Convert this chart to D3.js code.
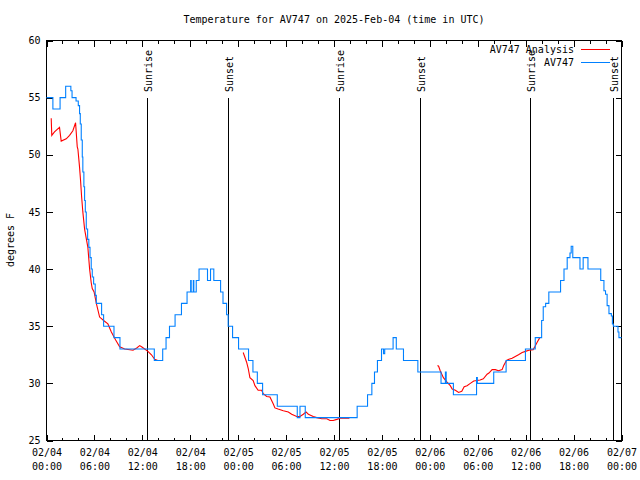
<!DOCTYPE html>
<html><head><meta charset="utf-8">
<script src="https://cdn.jsdelivr.net/npm/d3@7/dist/d3.min.js"></script>
<style>
html,body{margin:0;padding:0;background:#fff;}
svg text{font-family:"DejaVu Sans Mono","Liberation Mono",monospace;font-size:10px;fill:#000;}
</style></head><body>
<svg id="chart" width="640" height="480"></svg>
<script>
// ---- data (hours since 2025-02-04 00:00 UTC) ----
const titleText = "Temperature for AV747 on 2025-Feb-04 (time in UTC)";
const yLabelText = "degrees F";
const seriesNames = ["AV747 Analysis", "AV747"];
const seriesColors = ["#ff0000", "#0080ff"];

const obsHours = [0,0.8,1.7,2.4,3.05,3.2,3.7,3.98,4.14,4.23,4.35,4.48,4.55,4.68,4.77,4.86,4.98,5.15,5.3,5.45,5.6,5.73,5.9,6.1,6.24,6.9,7.15,8.45,9.2,13.5,14.55,14.97,15.4,16.1,16.9,17.6,18.05,18.12,18.38,18.45,18.75,19.1,20.16,20.54,20.95,21.8,22.1,22.55,22.75,23.3,24.05,25.3,25.85,26.4,27.06,28.9,31.4,31.74,32.4,38.9,40.2,40.74,41.07,41.44,41.95,42.2,42.35,43.4,43.8,44.7,46.5,49.4,49.95,50.05,50.95,53.85,53.95,56.0,57.55,59.97,61.2,62.0,62.2,62.5,62.9,64.37,64.8,65.2,65.55,65.7,65.9,66.8,67.2,67.8,69.4,69.8,70.0,70.2,70.43,70.73,70.86,70.98,71.56,71.68,72];
const obsTemps = [55,54,55,56,55.6,55,54.7,54.3,53.6,52.7,51.3,49.8,48.5,47.2,46,45,43.5,42.6,41.9,41,40,39.3,38.7,37.7,37,36,35,34,33,32,33,34,35,36,37,38,39,38,39,38,39,40,39,40,39,38,37,36,35,34,33,32,31,30,29,28,27,28,27,28,29,30,31,32,33,32.6,33,34,33,32,31,30,31,30,29,30.5,30,31,32,33,34,35.5,36.7,37,38,39,40,41,41.4,42,41,40,41,40,39,38.1,37.8,36.8,36.1,35.9,35.2,35,34.5,34,34];

// null temperature = gap in the analysis series
const anaHours = [0.59,0.66,1.0,1.63,1.84,2.47,2.89,3.3,3.64,3.85,3.93,4.05,4.14,4.27,4.39,4.55,4.77,5.0,5.18,5.4,5.6,5.73,5.96,6.24,6.65,7.15,7.69,8.12,8.66,9.16,9.79,10.83,11.3,11.67,11.9,12.3,12.7,13.14,13.55,13.93,
  19,
  24.63,25.06,25.26,25.47,25.88,26.1,26.5,26.94,27.14,27.57,27.98,28.4,28.6,29.0,29.65,30.28,30.7,31.33,31.74,32.16,32.5,32.79,33.4,33.84,34.47,35.1,35.5,35.9,36.35,36.76,37.93,
  43,
  48.96,49.1,49.3,49.5,49.7,50.15,50.56,50.8,51.2,51.6,52.0,52.3,52.66,53.07,53.5,53.9,54.3,54.7,55.17,55.4,55.8,56.2,56.6,57.05,57.25,57.6,57.9,58.3,58.7,59.1,59.56,59.97,60.4,60.94,61.14,61.44,61.77];
const anaTemps = [53.2,51.7,52.0,52.4,51.2,51.4,51.7,52.1,52.8,50.7,50.5,49.6,48.9,47.7,46.4,45,43.5,42.6,41.9,40,38.8,38.3,38.0,37,35.8,35.5,35.2,34.5,33.8,33.2,33.0,32.9,33.1,33.3,33.2,33.0,32.8,32.5,32.1,32.0,
  null,
  32.7,31.85,31.3,30.5,30.25,29.8,29.4,29.4,29.1,28.85,28.8,28.2,27.85,27.75,27.6,27.5,27.3,27.1,27.1,27.3,27.5,27.3,27.1,27.0,26.9,26.9,26.75,26.75,26.85,26.95,26.95,
  null,
  31.56,31.5,31.1,30.8,30.5,30.1,29.8,29.5,29.4,29.2,29.3,29.7,29.8,30.0,30.2,30.25,30.3,30.4,30.8,30.9,31.2,31.2,31.1,31.2,31.56,32.0,32.1,32.2,32.35,32.5,32.7,32.8,32.9,32.95,33.2,33.6,34.0];

const sunLabels = ["Sunrise","Sunset","Sunrise","Sunset","Sunrise","Sunset"];
const sunHours = [12.58,22.78,36.6,46.8,60.6,70.95];

const yTicks = [25,30,35,40,45,50,55,60];
const majorStepHours = 6, minorStepHours = 2;

// ---- drawing ----
const svg = d3.select("#chart");
const t0 = Date.UTC(2025,1,4,0,0), t1 = Date.UTC(2025,1,7,0,0);
const hd = h => new Date(t0 + h*3600e3);
const L = 46.5, R = 621.5, T = 40.5, B = 440.5;
const x = d3.scaleUtc().domain([t0, t1]).range([L, R]);
const y = d3.scaleLinear().domain([25, 60]).range([B, T]);

svg.append("rect").attr("width",640).attr("height",480).attr("fill","#fff");

// title
svg.append("text").attr("x",(L+R)/2).attr("y",23).attr("text-anchor","middle").text(titleText);
// y label
svg.append("text").attr("transform","translate(14,240) rotate(-90)").attr("text-anchor","middle").text(yLabelText);

// axes
const majorDates = d3.utcHour.every(majorStepHours).range(new Date(t0), new Date(t1+1));
const minorDates = d3.utcHour.every(minorStepHours).range(new Date(t0), new Date(t1+1))
  .filter(d => d.getUTCHours() % majorStepHours !== 0);

const axL = svg.append("g").attr("transform",`translate(${L},0)`)
  .call(d3.axisLeft(y).tickValues(yTicks).tickSize(-6).tickPadding(6).tickFormat(d3.format("d")));
const axR = svg.append("g").attr("transform",`translate(${R},0)`)
  .call(d3.axisRight(y).tickValues(yTicks).tickSize(-6).tickFormat(""));
const axB = svg.append("g").attr("transform",`translate(0,${B})`)
  .call(d3.axisBottom(x).tickValues(majorDates).tickSize(-6).tickPadding(8).tickFormat(""));
const axBm = svg.append("g").attr("transform",`translate(0,${B})`)
  .call(d3.axisBottom(x).tickValues(minorDates).tickSize(-3).tickFormat(""));
const axT = svg.append("g").attr("transform",`translate(0,${T})`)
  .call(d3.axisTop(x).tickValues(majorDates).tickSize(-6).tickFormat(""));
const axTm = svg.append("g").attr("transform",`translate(0,${T})`)
  .call(d3.axisTop(x).tickValues(minorDates).tickSize(-3).tickFormat(""));
[axL,axR,axB,axBm,axT,axTm].forEach(g => {
  g.select(".domain").remove();
  g.selectAll("line").attr("stroke","#000").attr("shape-rendering","crispEdges");
  g.selectAll("text").attr("font-family",null).attr("font-size",null).attr("fill","#000");
  g.attr("font-family",null).attr("font-size",null);
});
// two-line x labels
const fmtD = d3.utcFormat("%m/%d"), fmtH = d3.utcFormat("%H:%M");
axB.selectAll(".tick").each(function(d){
  const t = d3.select(this).select("text").attr("dy",null).attr("y",15);
  t.text(null);
  t.append("tspan").attr("x",0).attr("y",15).text(fmtD(d));
  t.append("tspan").attr("x",0).attr("y",29).text(fmtH(d));
});

// border
svg.append("rect").attr("x",L).attr("y",T).attr("width",R-L).attr("height",B-T)
  .attr("fill","none").attr("stroke","#000").attr("shape-rendering","crispEdges");

// sunrise / sunset
const sun = svg.append("g");
sunHours.forEach((h,i) => {
  const sx = Math.round(x(hd(h))) + 0.5;
  sun.append("line").attr("x1",sx).attr("x2",sx).attr("y1",98).attr("y2",B)
    .attr("stroke","#000").attr("shape-rendering","crispEdges");
  sun.append("text").attr("transform",`translate(${sx+4},92) rotate(-90)`)
    .attr("text-anchor","start").text(sunLabels[i]);
});

// analysis (red)
const anaData = anaHours.map((h,i) => ({d: hd(h), v: anaTemps[i]}));
svg.append("path").datum(anaData)
  .attr("d", d3.line().defined(p => p.v !== null).x(p => x(p.d)).y(p => y(p.v)))
  .attr("fill","none").attr("stroke",seriesColors[0]).attr("stroke-width",1.1);

// observations (blue)
const obsData = obsHours.map((h,i) => ({d: hd(h), v: obsTemps[i]}));
svg.append("path").datum(obsData)
  .attr("d", d3.line().curve(d3.curveStepAfter).x(p => x(p.d)).y(p => y(p.v)))
  .attr("fill","none").attr("stroke",seriesColors[1]).attr("stroke-width",1.1);

// legend
const leg = svg.append("g");
seriesNames.forEach((n,i) => {
  const ly = 49.5 + i*13;
  leg.append("text").attr("x",574).attr("y",ly+3.5).attr("text-anchor","end").text(n);
  leg.append("line").attr("x1",581).attr("x2",610).attr("y1",ly).attr("y2",ly)
    .attr("stroke",seriesColors[i]).attr("shape-rendering","crispEdges");
});
</script>
</body></html>
